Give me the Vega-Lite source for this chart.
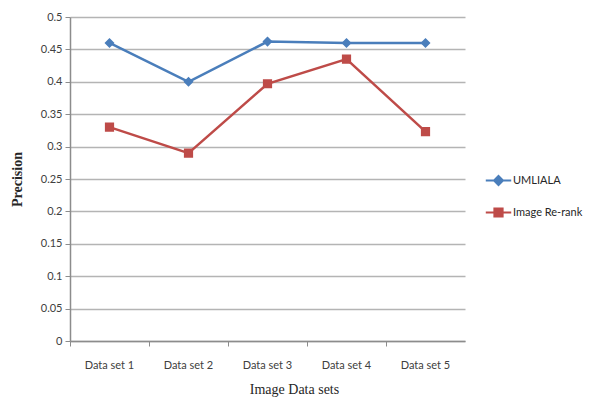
{
  "$schema": "https://vega.github.io/schema/vega-lite/v6.json",
  "width": 395,
  "height": 324,
  "autosize": {"type": "none"},
  "padding": {"left": 70, "top": 17, "right": 136, "bottom": 57},
  "background": "white",
  "config": {
    "view": {"stroke": null},
    "axis": {"labelFont": "Lato", "labelFontSize": 11, "labelColor": "#404040", "titleFont": "Liberation Serif", "titleFontSize": 14, "titleColor": "#262626", "domainColor": "#8c8c8c", "tickColor": "#8c8c8c", "gridColor": "#b4b4b4", "gridWidth": 1.5, "domainWidth": 1.5}
  },
  "data": {"values": [
    {"set": "Data set 1", "series": "UMLIALA", "precision": 0.46},
    {"set": "Data set 2", "series": "UMLIALA", "precision": 0.40},
    {"set": "Data set 3", "series": "UMLIALA", "precision": 0.462},
    {"set": "Data set 4", "series": "UMLIALA", "precision": 0.46},
    {"set": "Data set 5", "series": "UMLIALA", "precision": 0.46},
    {"set": "Data set 1", "series": "Image Re-rank", "precision": 0.33},
    {"set": "Data set 2", "series": "Image Re-rank", "precision": 0.29},
    {"set": "Data set 3", "series": "Image Re-rank", "precision": 0.397},
    {"set": "Data set 4", "series": "Image Re-rank", "precision": 0.435},
    {"set": "Data set 5", "series": "Image Re-rank", "precision": 0.323}
  ]},
  "encoding": {
    "x": {"field": "set", "type": "nominal", "sort": null, "scale": {"type": "band", "paddingInner": 0, "paddingOuter": 0},
      "axis": {"title": "Image Data sets", "labelAngle": 0, "bandPosition": 0, "tickSize": 5, "labelPadding": 13, "grid": false, "titlePadding": 12, "titleX": 224, "titleFontWeight": "normal"}},
    "y": {"field": "precision", "type": "quantitative", "scale": {"domain": [0, 0.5], "nice": false},
      "axis": {"title": "Precision", "values": [0, 0.05, 0.1, 0.15, 0.2, 0.25, 0.3, 0.35, 0.4, 0.45, 0.5], "format": ".2~f", "tickSize": 5, "labelPadding": 3, "titlePadding": 16, "titleFontWeight": "bold"}},
    "color": {"field": "series", "type": "nominal", "sort": ["UMLIALA", "Image Re-rank"], "scale": {"domain": ["UMLIALA", "Image Re-rank"], "range": ["#4a7ebb", "#be4b48"]},
      "legend": {"title": null, "orient": "none", "legendX": 423, "legendY": 158, "padding": 0, "symbolSize": 56, "symbolStrokeWidth": 2, "symbolOpacity": 1, "rowPadding": 15, "labelOffset": 9, "labelFont": "Lato", "labelFontSize": 11, "labelColor": "#262626"}}
  },
  "layer": [
    {"mark": {"type": "line", "strokeWidth": 2.5}},
    {"mark": {"type": "point", "filled": true, "opacity": 1, "strokeWidth": 0},
      "encoding": {
        "shape": {"field": "series", "type": "nominal", "sort": ["UMLIALA", "Image Re-rank"], "scale": {"domain": ["UMLIALA", "Image Re-rank"], "range": ["M-3.4,0H3.4M0,-1.2L1.2,0L0,1.2L-1.2,0Z", "M-3.4,0H3.4M-1.1,-1.1H1.1V1.1H-1.1Z"]},
          "legend": {"title": null, "orient": "none", "legendX": 423, "legendY": 158, "padding": 0, "symbolSize": 56, "symbolStrokeWidth": 2, "symbolOpacity": 1, "rowPadding": 15, "labelOffset": 9, "labelFont": "Lato", "labelFontSize": 11, "labelColor": "#262626"}},
        "stroke": {"field": "series", "type": "nominal", "sort": ["UMLIALA", "Image Re-rank"], "scale": {"domain": ["UMLIALA", "Image Re-rank"], "range": ["#4a7ebb", "#be4b48"]},
          "legend": {"title": null, "orient": "none", "legendX": 423, "legendY": 158, "padding": 0, "symbolSize": 56, "symbolStrokeWidth": 2, "symbolOpacity": 1, "rowPadding": 15, "labelOffset": 9, "labelFont": "Lato", "labelFontSize": 11, "labelColor": "#262626"}},
        "size": {"value": 70}
      }}
  ]
}
